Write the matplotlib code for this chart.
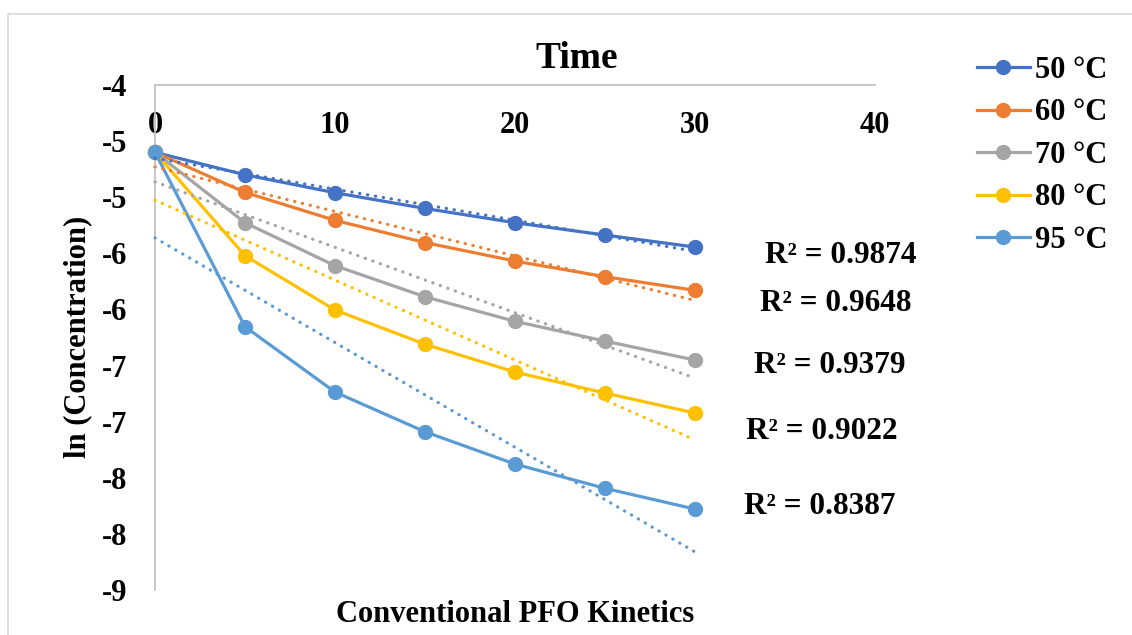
import math
import numpy as np
import matplotlib
matplotlib.use("Agg")
import matplotlib.pyplot as plt
from matplotlib.patches import Rectangle
from matplotlib.ticker import FixedLocator, FuncFormatter

# ---------------- data ----------------
time = [0, 5, 10, 15, 20, 25, 30]
series_names = ["50 °C", "60 °C", "70 °C", "80 °C", "95 °C"]
ln_50 = [-4.60, -4.80, -4.96, -5.10, -5.227, -5.337, -5.444]
ln_60 = [-4.60, -4.957, -5.206, -5.404, -5.569, -5.708, -5.830]
ln_70 = [-4.60, -5.227, -5.610, -5.887, -6.106, -6.282, -6.451]
ln_80 = [-4.60, -5.521, -6.005, -6.310, -6.558, -6.745, -6.923]
ln_95 = [-4.60, -6.154, -6.736, -7.090, -7.378, -7.594, -7.779]
r2_labels = ["R² = 0.9874", "R² = 0.9648", "R² = 0.9379", "R² = 0.9022", "R² = 0.8387"]
x_ticks = [0, 10, 20, 30, 40]
y_ticks = [-4, -4.5, -5, -5.5, -6, -6.5, -7, -7.5, -8, -8.5]

# ---------------- style / layout ----------------
colors = ["#4472C4", "#ED7D31", "#A5A5A5", "#FFC000", "#5B9BD5"]
r2_pos = [(38.1, -5.52), (37.8, -5.945), (37.5, -6.50), (37.05, -7.085), (36.95, -7.755)]
FONT = "Liberation Serif"
W, H = 1132, 635

plt.rcParams["font.family"] = [FONT, "DejaVu Serif"]
plt.rcParams["font.weight"] = "bold"

fig = plt.figure(figsize=(W / 100, H / 100), dpi=100)
fig.patches.append(Rectangle((8 / W, -0.1), 1.2, 1 - 14 / H + 0.1, transform=fig.transFigure,
                             fill=False, edgecolor="#D9D9D9", linewidth=1.2, zorder=0))

ax = fig.add_axes([155 / W, 1 - 590 / H, 720 / W, 505 / H])
ax.set_xlim(0, 40)
ax.set_ylim(-8.5, -4)

all_series = [ln_50, ln_60, ln_70, ln_80, ln_95]
x = np.array(time, dtype=float)
handles = []
for name, ys, c in zip(series_names, all_series, colors):
    ys = np.array(ys)
    h, = ax.plot(x, ys, color=c, lw=2.3, marker="o", ms=10, zorder=3, label=name,
                 clip_on=False)
    handles.append(h)
    slope, intercept = np.polyfit(x, ys, 1)
    xf = np.array([x.min(), x.max()])
    ax.plot(xf, intercept + slope * xf, color=c, lw=2.3, linestyle=(0, (0.1, 2.4)),
            dash_capstyle="round", zorder=4, clip_on=False)

for lbl, (px, py) in zip(r2_labels, r2_pos):
    ax.text(px, py, lbl, ha="center", va="center", fontsize=22.5, fontweight="bold",
            family=FONT, clip_on=False)

# axes styling
for s in ["top", "right"]:
    ax.spines[s].set_visible(False)
ax.spines["bottom"].set_position(("data", -4))
for s in ["bottom", "left"]:
    ax.spines[s].set_color("#BFBFBF")
    ax.spines[s].set_linewidth(1.2)

ax.xaxis.set_major_locator(FixedLocator(x_ticks))
ax.yaxis.set_major_locator(FixedLocator(y_ticks))


def excel_round(v, pos=None):
    r = math.floor(abs(v) + 0.5)
    return f"-{r}" if v < 0 else f"{r}"


ax.yaxis.set_major_formatter(FuncFormatter(excel_round))
ax.xaxis.set_major_formatter(FuncFormatter(lambda v, p: f"{int(v)}"))
ax.tick_params(axis="x", length=0, pad=19, labelsize=22)
ax.tick_params(axis="y", length=0, pad=20, labelsize=22)
for t in ax.get_xticklabels() + ax.get_yticklabels():
    t.set_fontweight("bold")

fig.text(577 / W, 1 - 59 / H, "Time", ha="center", va="center", fontsize=27, fontweight="bold")
fig.text(515 / W, 1 - 614 / H, "Conventional PFO Kinetics", ha="center", va="center",
         fontsize=22, fontweight="bold")
fig.text(78 / W, 1 - 337 / H, "ln (Concentration)", ha="center", va="center", rotation=90,
         fontsize=22, fontweight="bold")

leg = fig.legend(handles=handles, labels=series_names, loc="upper left",
                 bbox_to_anchor=(977 / W, 1 - 56 / H), frameon=False, borderpad=0,
                 borderaxespad=0, handlelength=1.73, handletextpad=0.17, labelspacing=0.44,
                 prop={"family": FONT, "weight": "bold", "size": 22})

fig.savefig("out.png", dpi=100)
